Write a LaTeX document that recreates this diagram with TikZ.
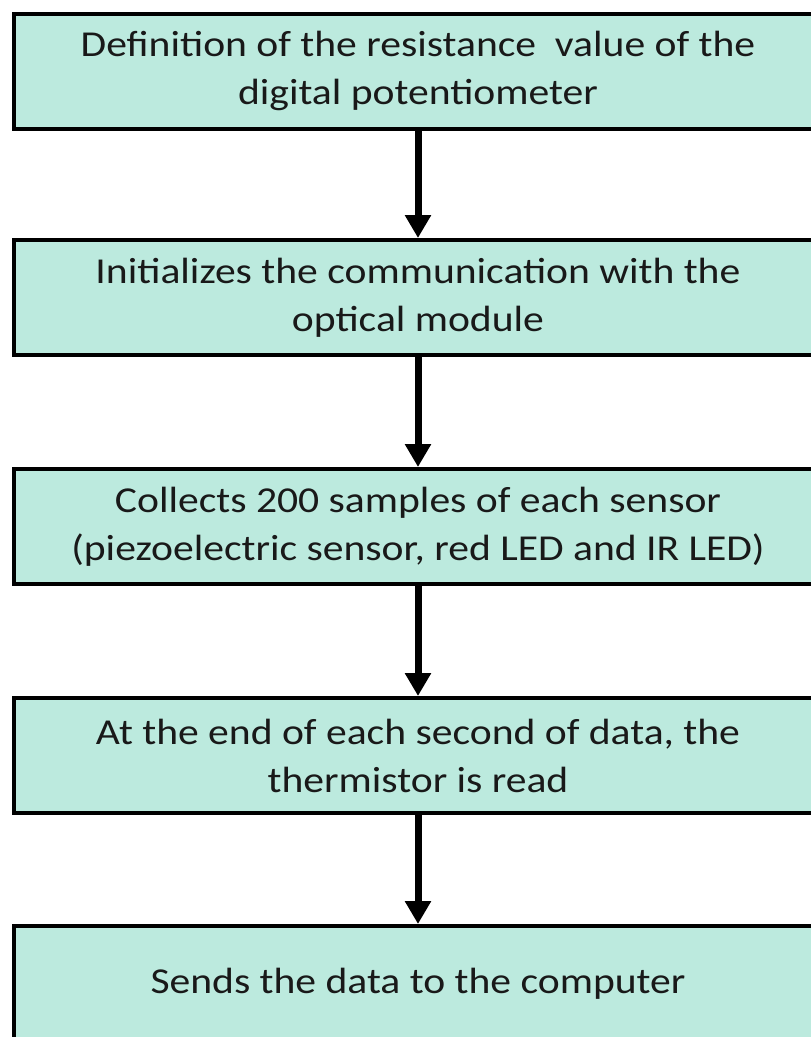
\documentclass[tikz,border=0pt]{standalone}
\usepackage{fontspec}
\setmainfont{Carlito}[FakeStretch=1.14]
\usetikzlibrary{arrows.meta}
\definecolor{boxfill}{RGB}{188,234,222}
\tikzset{
  flowbox/.style={draw=black, line width=4pt, fill=boxfill, minimum width=808pt, minimum height=115pt, inner sep=0pt, align=center, font=\fontsize{36.5}{48}\selectfont, text=black!90},
  flowarrow/.style={line width=7pt, -{Triangle[width=25pt,length=23pt]}}
}
\begin{document}
\begin{tikzpicture}[x=1pt,y=-1pt]
\useasboundingbox (0,0) rectangle (811,1037);
\clip (0,0) rectangle (811,1037);
\fill[white] (0,0) rectangle (811,1037);
\node[flowbox] (b1) at (418,71) {Definition of the resistance\ \ value of the\\digital potentiometer};
\node[flowbox] (b2) at (418,297.5) {Initializes the communication with the\\optical module};
\node[flowbox] (b3) at (418,526.5) {Collects 200 samples of each sensor\\(piezoelectric sensor, red LED and IR LED)};
\node[flowbox] (b4) at (418,755.5) {At the end of each second of data, the\\thermistor is read};
\node[flowbox] (b5) at (418,983.5) {Sends the data to the computer};
\draw[flowarrow] (b1.south) -- (b2.north);
\draw[flowarrow] (b2.south) -- (b3.north);
\draw[flowarrow] (b3.south) -- (b4.north);
\draw[flowarrow] (b4.south) -- (b5.north);
\end{tikzpicture}
\end{document}
